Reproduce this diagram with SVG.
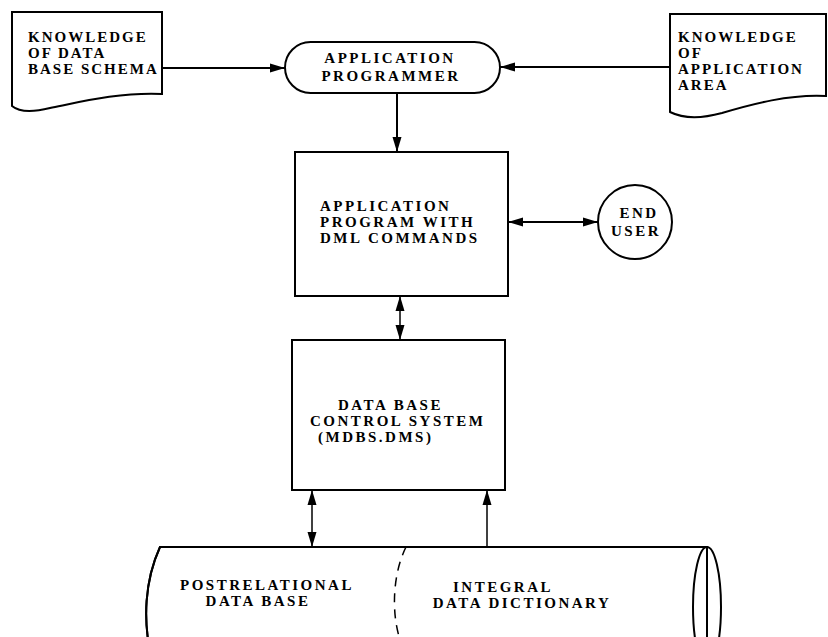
<svg xmlns="http://www.w3.org/2000/svg" width="828" height="637" viewBox="0 0 828 637">
<defs>
<style>
.s{fill:#fff;stroke:#000;stroke-width:2}
.o{fill:none;stroke:#000;stroke-width:2}
.t{font-family:"Liberation Serif","Times New Roman",serif;font-weight:bold;font-size:15px;letter-spacing:2.5px;fill:#000}
.d{letter-spacing:2px}
.c{stroke:#000;stroke-width:2;fill:none}
.c2{stroke:#000;stroke-width:1.5;fill:none}
</style>
<marker id="ah" markerWidth="15" markerHeight="10" refX="15" refY="5" orient="auto-start-reverse" markerUnits="userSpaceOnUse">
<path d="M0,0.5 L15,5 L0,9.5 Z" fill="#000"/>
</marker>
</defs>
<rect width="828" height="637" fill="#fff"/>

<g id="knowledge-schema">
<path class="s" d="M12,12 H162 V94 C120,92 80,102 50,108 C30,113 18,111 12,106 Z"/>
<text class="t d" x="28" y="42">KNOWLEDGE</text>
<text class="t d" x="28" y="58">OF DATA</text>
<text class="t d" x="28" y="74">BASE SCHEMA</text>
</g>

<g id="programmer">
<rect class="s" x="285" y="42" width="215" height="51" rx="25.5"/>
<text class="t" x="390" y="63" text-anchor="middle">APPLICATION</text>
<text class="t" x="391" y="81" text-anchor="middle">PROGRAMMER</text>
</g>

<g id="knowledge-area">
<path class="s" d="M670,14 H826 V96 C790,94 752,104 722,113 C700,119 682,118 670,112 Z"/>
<text class="t d" x="678" y="42">KNOWLEDGE</text>
<text class="t d" x="678" y="58">OF</text>
<text class="t d" x="678" y="74">APPLICATION</text>
<text class="t d" x="678" y="90">AREA</text>
</g>

<g id="app-program">
<rect class="s" x="295" y="152" width="213" height="144"/>
<text class="t" x="320" y="211">APPLICATION</text>
<text class="t" x="320" y="227">PROGRAM WITH</text>
<text class="t" x="320" y="243">DML COMMANDS</text>
</g>

<g id="end-user">
<circle class="s" cx="635" cy="222" r="37"/>
<text class="t" x="639" y="218" text-anchor="middle">END</text>
<text class="t" x="636" y="236" text-anchor="middle">USER</text>
</g>

<g id="dbcs">
<rect class="s" x="292" y="340" width="213" height="150"/>
<text class="t" x="338" y="410">DATA BASE</text>
<text class="t" x="310" y="426">CONTROL SYSTEM</text>
<text class="t" x="318" y="442">(MDBS.DMS)</text>
</g>

<g id="storage">
<path class="s" d="M707,547 H160 C145,580 142,620 152,660 H707 Z" stroke="none"/>
<path class="c" d="M707,547 H160 C145,580 142,620 152,660"/>
<ellipse class="o" cx="707" cy="607" rx="14" ry="60"/>
<path class="c2" d="M406,547 C392,575 390,620 404,650" stroke-dasharray="9,7"/>
<text class="t" x="180" y="590">POSTRELATIONAL</text>
<text class="t" x="258" y="606" text-anchor="middle">DATA BASE</text>
<text class="t" x="503" y="592" text-anchor="middle">INTEGRAL</text>
<text class="t" x="522" y="608" text-anchor="middle">DATA DICTIONARY</text>
</g>

<g id="connectors">
<line class="c" x1="162" y1="68" x2="285" y2="68" marker-end="url(#ah)"/>
<line class="c" x1="670" y1="67" x2="500" y2="67" marker-end="url(#ah)"/>
<line class="c" x1="397" y1="93" x2="397" y2="152" marker-end="url(#ah)"/>
<line class="c" x1="508" y1="222" x2="598" y2="222" marker-start="url(#ah)" marker-end="url(#ah)"/>
<line class="c2" x1="400" y1="296" x2="400" y2="340" marker-start="url(#ah)" marker-end="url(#ah)"/>
<line class="c2" x1="312" y1="490" x2="312" y2="547" marker-start="url(#ah)" marker-end="url(#ah)"/>
<line class="c2" x1="487" y1="547" x2="487" y2="490" marker-end="url(#ah)"/>
</g>
</svg>
